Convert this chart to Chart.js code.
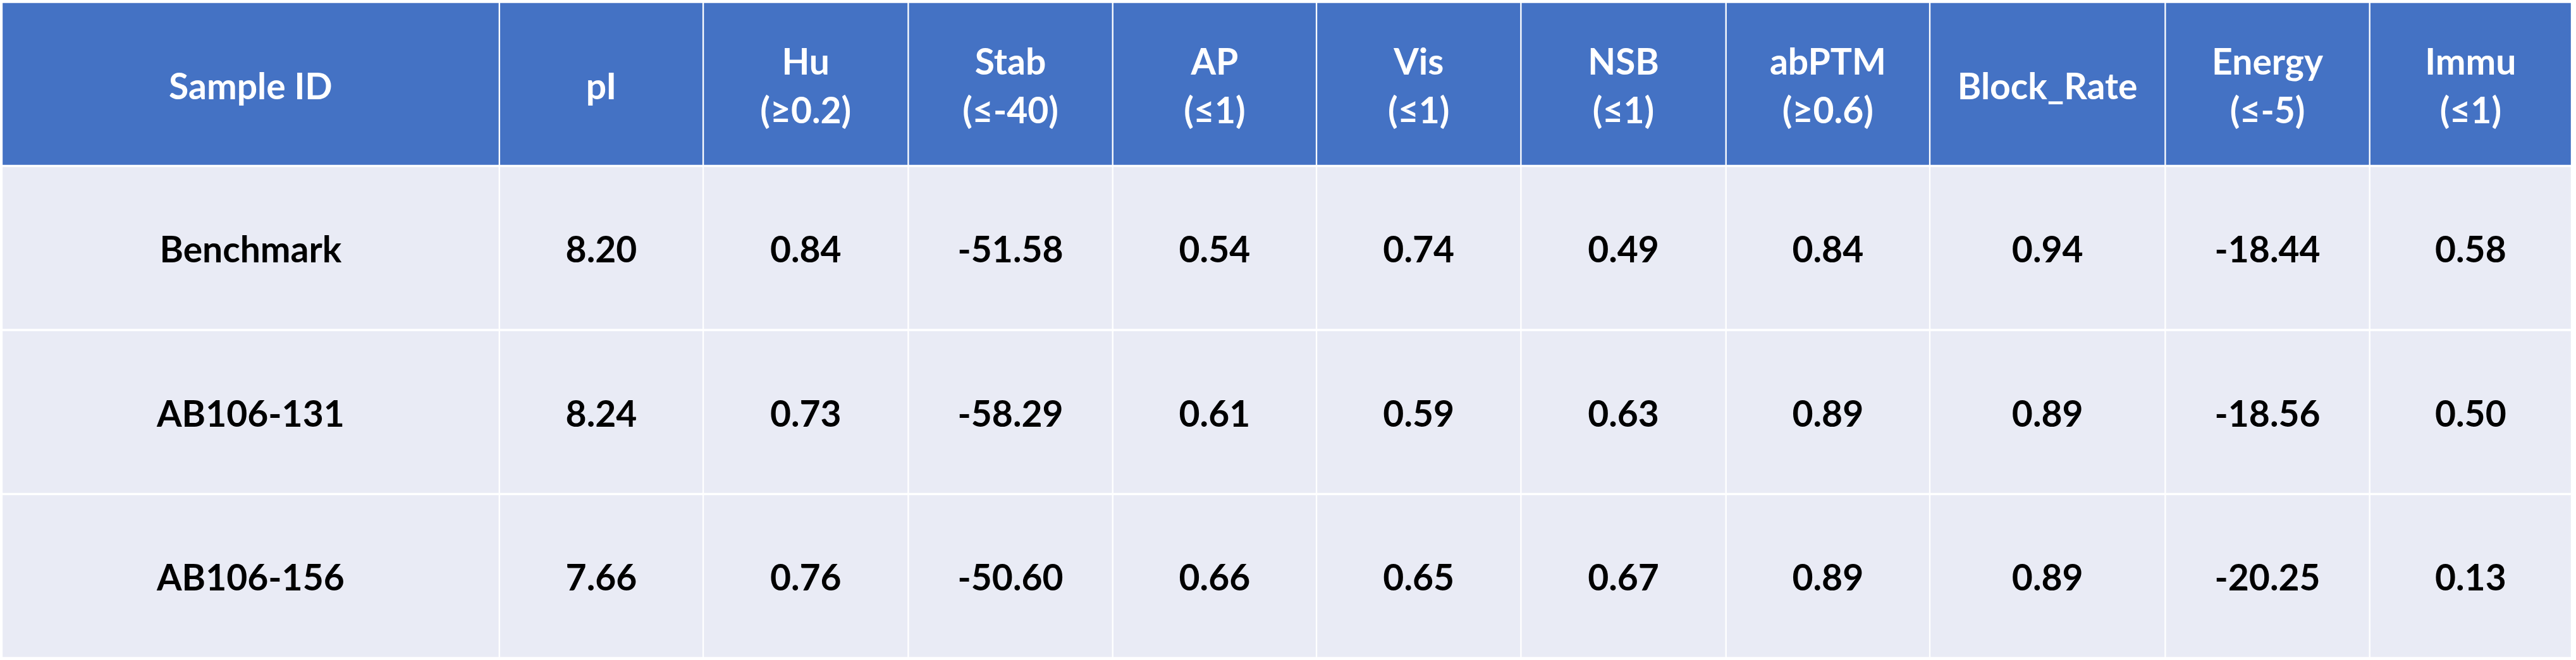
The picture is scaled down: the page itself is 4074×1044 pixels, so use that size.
<!DOCTYPE html>
<html>
<head>
<meta charset="utf-8">
<script src="https://cdn.jsdelivr.net/npm/chart.js@4.4.0/dist/chart.umd.min.js"></script>
<style>
  html, body { margin: 0; padding: 0; background: #fff; overflow: hidden; }
</style>
</head>
<body>
<canvas id="tableChart" width="4074" height="1044"></canvas>
<script>
// table content
const sampleIds = ['Benchmark', 'AB106-131', 'AB106-156'];
const pI = [8.20, 8.24, 7.66];
const hu = [0.84, 0.73, 0.76];
const stab = [-51.58, -58.29, -50.60];
const ap = [0.54, 0.61, 0.66];
const vis = [0.74, 0.59, 0.65];
const nsb = [0.49, 0.63, 0.67];
const abPTM = [0.84, 0.89, 0.89];
const blockRate = [0.94, 0.89, 0.89];
const energy = [-18.44, -18.56, -20.25];
const immu = [0.58, 0.50, 0.13];

const columnHeads = [
    ['Sample ID'], ['pI'], ['Hu', '(≥0.2)'], ['Stab', '(≤-40)'], ['AP', '(≤1)'],
    ['Vis', '(≤1)'], ['NSB', '(≤1)'], ['abPTM', '(≥0.6)'], ['Block_Rate'],
    ['Energy', '(≤-5)'], ['Immu', '(≤1)']
];
const columnValues = [sampleIds, pI, hu, stab, ap, vis, nsb, abPTM, blockRate, energy, immu];

// layout / style
const colWidths = [786, 322, 324, 323, 322, 323, 324, 322, 372, 323, 319];
const rowKeys = ['header', ...sampleIds];
const HEAD_BG = '#4472C4';
const BODY_BG = '#E9EBF5';
const FONT = 'bold 57px Lato, "Open Sans", sans-serif';
const LINE_GAP = 77;

const edges = [0];
colWidths.forEach(w => edges.push(edges[edges.length - 1] + w));

const datasets = colWidths.map((w, c) => ({
    label: columnHeads[c].join(' '),
    data: rowKeys.map(() => [edges[c], edges[c + 1]]),
    backgroundColor: ctx => ctx.dataIndex === 0 ? HEAD_BG : BODY_BG,
    borderColor: '#ffffff',
    borderWidth: { left: 1.5, right: 1.5, top: 2, bottom: 2 },
    borderSkipped: false,
    grouped: false,
    barPercentage: 1,
    categoryPercentage: 1
}));

const fmt = v => typeof v === 'number' ? v.toFixed(2) : v;

const cellText = {
    id: 'cellText',
    afterDatasetsDraw(chart) {
        const ctx = chart.ctx;
        ctx.save();
        ctx.font = FONT;
        ctx.textAlign = 'center';
        ctx.textBaseline = 'alphabetic';
        const cap = ctx.measureText('H').actualBoundingBoxAscent;
        chart.data.datasets.forEach((ds, c) => {
            chart.getDatasetMeta(c).data.forEach((bar, r) => {
                const cx = (bar.x + bar.base) / 2;
                const lines = r === 0 ? columnHeads[c] : [fmt(columnValues[c][r - 1])];
                ctx.fillStyle = r === 0 ? '#ffffff' : '#000000';
                const block = cap + LINE_GAP * (lines.length - 1);
                const top = bar.y - block / 2 + (r === 0 ? 3 : 2);
                lines.forEach((t, i) => ctx.fillText(t, cx, top + cap + i * LINE_GAP));
            });
        });
        ctx.restore();
    }
};

new Chart(document.getElementById('tableChart').getContext('2d'), {
    type: 'bar',
    data: { labels: rowKeys, datasets },
    options: {
        indexAxis: 'y',
        responsive: false,
        animation: false,
        devicePixelRatio: 1,
        layout: { padding: { left: 3, right: 7, top: 3, bottom: 3 } },
        scales: {
            x: { type: 'linear', min: 0, max: edges[edges.length - 1], display: false },
            y: { type: 'category', display: false }
        },
        plugins: { legend: { display: false }, tooltip: { enabled: false } }
    },
    plugins: [cellText]
});
</script>
</body>
</html>
